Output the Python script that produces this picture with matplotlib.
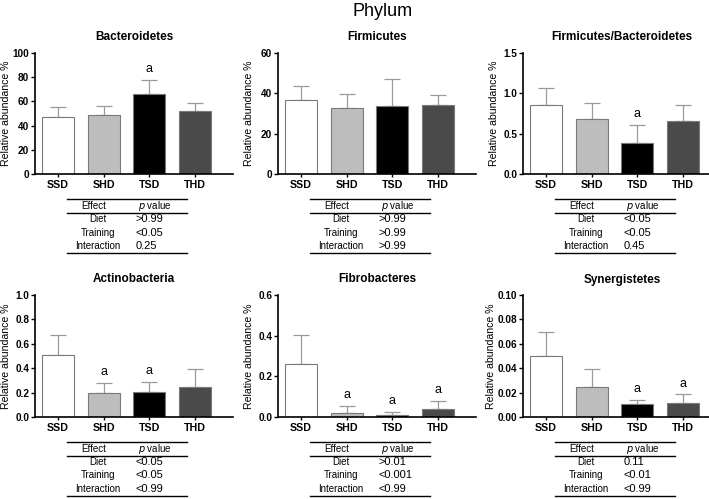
import matplotlib
matplotlib.use("Agg")
import matplotlib.pyplot as plt
from matplotlib.lines import Line2D
import numpy as np

plt.rcParams['font.family'] = ['Liberation Sans', 'DejaVu Sans']

groups = ["SSD", "SHD", "TSD", "THD"]
bar_colors = ["white", "#bdbdbd", "black", "#4a4a4a"]

# phylum name, means, upper error, y max, y tick step, groups marked "a"
titles = ["Bacteroidetes", "Firmicutes", "Firmicutes/Bacteroidetes",
          "Actinobacteria", "Fibrobacteres", "Synergistetes"]
means = [
    [47, 48.5, 66, 52],
    [36.5, 32.7, 33.7, 34],
    [0.86, 0.68, 0.39, 0.66],
    [0.51, 0.195, 0.205, 0.245],
    [0.26, 0.022, 0.012, 0.037],
    [0.050, 0.025, 0.0105, 0.0115],
]
errs = [
    [8, 7.5, 12, 6.5],
    [7, 6.8, 13.6, 5],
    [0.20, 0.20, 0.22, 0.19],
    [0.16, 0.085, 0.085, 0.15],
    [0.145, 0.033, 0.013, 0.04],
    [0.020, 0.014, 0.0035, 0.007],
]
ymaxs = [100, 60, 1.5, 1.0, 0.6, 0.10]
ysteps = [20, 20, 0.5, 0.2, 0.2, 0.02]
ytick_fmt = ["{:.0f}", "{:.0f}", "{:.1f}", "{:.1f}", "{:.1f}", "{:.2f}"]
marks = [[2], [], [2], [1, 2], [1, 2, 3], [2, 3]]

effects = ["Diet", "Training", "Interaction"]
pvalues = [
    [">0.99", "<0.05", "0.25"],
    [">0.99", ">0.99", ">0.99"],
    ["<0.05", "<0.05", "0.45"],
    ["<0.05", "<0.05", "<0.99"],
    [">0.01", "<0.001", "<0.99"],
    ["0.11", "<0.01", "<0.99"],
]

W, H = 709, 499
fig = plt.figure(figsize=(W / 100, H / 100), dpi=100)

def fx(px):
    return px / W

def fy(py):
    return 1 - py / H

fig.text(fx(383), fy(11), "Phylum", ha="center", va="center", fontsize=13)

col_left = [35, 278, 523]
row_top = [53, 295]
row_bot = [174, 417]
ax_w = 198
label_off = [-29, -29, -29, -29, -29, -32]

for i in range(6):
    r, c = divmod(i, 3)
    x0 = col_left[c]
    ax = fig.add_axes([fx(x0), fy(row_bot[r]), ax_w / W, (row_bot[r] - row_top[r]) / H])
    x = np.arange(4)
    ax.bar(x, means[i], width=0.7, color=bar_colors, edgecolor="#7a7a7a", linewidth=0.8, zorder=2)
    ax.errorbar(x, means[i], yerr=[np.zeros(4), errs[i]], fmt="none", ecolor="#9a9a9a",
                elinewidth=0.9, capsize=6, capthick=0.9, zorder=1)
    for j in marks[i]:
        ax.annotate("a", (x[j], means[i][j] + errs[i][j]), xytext=(0, 3.5),
                    textcoords="offset points", ha="center", va="bottom", fontsize=9)
    ax.set_xlim(-0.5, 3.83)
    ax.set_ylim(0, ymaxs[i])
    ticks = np.arange(0, ymaxs[i] + ysteps[i] / 2, ysteps[i])
    ax.set_yticks(ticks)
    ax.set_yticklabels([ytick_fmt[i].format(t) for t in ticks], fontweight="bold", fontsize=7.2)
    ax.set_xticks(x)
    ax.set_xticklabels(groups, fontweight="bold", fontsize=7.7)
    ax.tick_params(axis="y", length=3, width=1, pad=1.2)
    ax.tick_params(axis="x", length=2.5, width=1, pad=2)
    for s in ["top", "right"]:
        ax.spines[s].set_visible(False)
    for s in ["left", "bottom"]:
        ax.spines[s].set_linewidth(1.2)
    ax.set_ylabel("Relative abundance %", fontsize=7.6, va="center")
    ax.yaxis.set_label_coords(label_off[i] / ax_w, 0.5)
    ax.set_title(titles[i], fontweight="bold", fontsize=8.5, pad=9)

    # p value table below each panel
    ty = row_bot[r] + 25
    lx0, lx1 = x0 + 32, x0 + 152
    for yy in [ty, ty + 14, ty + 54]:
        fig.add_artist(Line2D([fx(lx0), fx(lx1)], [fy(yy), fy(yy)], color="black", lw=1.0))
    fig.text(fx(x0 + 59), fy(ty + 7), "Effect", ha="center", va="center", fontsize=7)
    fig.text(fx(x0 + 120), fy(ty + 7), r"$\it{p}$ value", ha="center", va="center", fontsize=7)
    for k, eff in enumerate(effects):
        yy = ty + 20 + k * 13.5
        fig.text(fx(x0 + 63), fy(yy), eff, ha="center", va="center", fontsize=7)
        fig.text(fx(x0 + 101), fy(yy), pvalues[i][k], ha="left", va="center", fontsize=8)

fig.savefig("out.png", dpi=100)
